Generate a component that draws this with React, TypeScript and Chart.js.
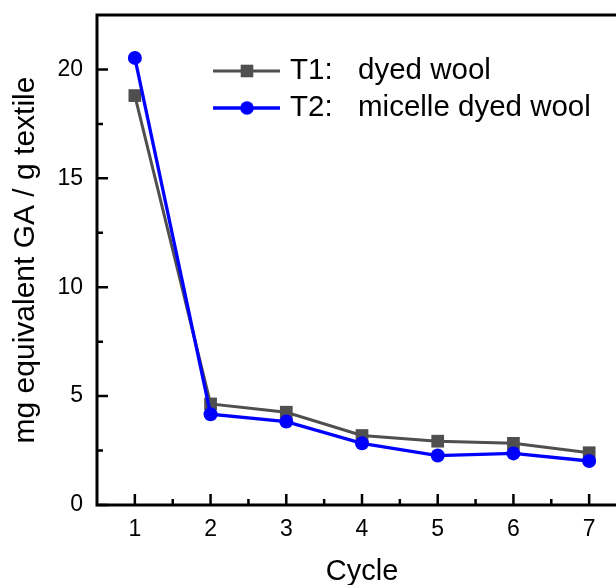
import React, { useEffect, useRef } from 'react';
import { Chart, registerables } from 'chart.js';

Chart.register(...registerables);

const cycles = [1, 2, 3, 4, 5, 6, 7];
const t1Values = [18.8, 4.64, 4.26, 3.19, 2.93, 2.83, 2.4];
const t2Values = [20.53, 4.17, 3.83, 2.83, 2.27, 2.37, 2.02];
const seriesCodes = ['T1:', 'T2:'];
const seriesNames = ['dyed wool', 'micelle dyed wool'];
const yMajorTicks = [0, 5, 10, 15, 20];
const yMinorTicks = [2.5, 7.5, 12.5, 17.5];
const xMajorTicks = cycles;
const xMinorTicks = [1.5, 2.5, 3.5, 4.5, 5.5, 6.5];
const yTitle = 'mg equivalent GA / g textile';
const xTitle = 'Cycle';

const FONT = "'Liberation Sans', Arial, Helvetica, sans-serif";
const GRAY = '#4f4f4f';
const BLUE = '#0000ff';

const framePlugin = {
  id: 'frameAndLegend',
  afterDraw(chart: any) {
    const { ctx, chartArea: a, scales } = chart;
    const x = scales.x;
    const y = scales.y;
    ctx.save();
    ctx.strokeStyle = '#000';
    ctx.lineWidth = 3;
    ctx.lineCap = 'butt';
    ctx.strokeRect(a.left, a.top, a.right - a.left, a.bottom - a.top);
    ctx.lineWidth = 2.5;
    ctx.beginPath();
    xMajorTicks.forEach((v) => {
      const px = x.getPixelForValue(v);
      ctx.moveTo(px, a.bottom);
      ctx.lineTo(px, a.bottom - 11);
    });
    xMinorTicks.forEach((v) => {
      const px = x.getPixelForValue(v);
      ctx.moveTo(px, a.bottom);
      ctx.lineTo(px, a.bottom - 6);
    });
    yMajorTicks.forEach((v) => {
      const py = y.getPixelForValue(v);
      ctx.moveTo(a.left, py);
      ctx.lineTo(a.left + 11, py);
    });
    yMinorTicks.forEach((v) => {
      const py = y.getPixelForValue(v);
      ctx.moveTo(a.left, py);
      ctx.lineTo(a.left + 6, py);
    });
    ctx.stroke();

    // legend
    const rows = [
      { color: GRAY, width: 3, marker: 'rect', y: 71 },
      { color: BLUE, width: 3.3, marker: 'circle', y: 108 },
    ];
    rows.forEach((r, i) => {
      ctx.strokeStyle = r.color;
      ctx.lineWidth = r.width;
      ctx.beginPath();
      ctx.moveTo(213, r.y);
      ctx.lineTo(280, r.y);
      ctx.stroke();
      ctx.fillStyle = r.color;
      if (r.marker === 'rect') {
        ctx.fillRect(247 - 6.3, r.y - 6.3, 12.6, 12.6);
      } else {
        ctx.beginPath();
        ctx.arc(247, r.y, 6.8, 0, Math.PI * 2);
        ctx.fill();
      }
      ctx.fillStyle = '#000';
      ctx.font = `29.5px ${FONT}`;
      ctx.textBaseline = 'middle';
      ctx.textAlign = 'left';
      ctx.fillText(seriesCodes[i], 290, r.y);
      ctx.fillText(seriesNames[i], 358, r.y);
    });
    ctx.restore();
  },
};

export default function App() {
  const ref = useRef<HTMLCanvasElement | null>(null);

  useEffect(() => {
    if (!ref.current) return;
    const chart = new Chart(ref.current, {
      type: 'line',
      data: {
        datasets: [
          {
            label: 'T2: micelle dyed wool',
            data: cycles.map((c, i) => ({ x: c, y: t2Values[i] })),
            borderColor: BLUE,
            backgroundColor: BLUE,
            borderWidth: 3.3,
            pointStyle: 'circle',
            pointRadius: 7,
            pointBorderWidth: 0,
            pointBackgroundColor: BLUE,
            order: 0,
            clip: false,
          },
          {
            label: 'T1: dyed wool',
            data: cycles.map((c, i) => ({ x: c, y: t1Values[i] })),
            borderColor: GRAY,
            backgroundColor: GRAY,
            borderWidth: 3,
            pointStyle: 'rect',
            pointRadius: 9,
            pointBorderWidth: 0,
            pointBackgroundColor: GRAY,
            order: 1,
            clip: false,
          },
        ],
      },
      options: {
        animation: false,
        responsive: false,
        events: [],
        layout: { padding: { left: 0, right: 33, top: 15, bottom: 0 } },
        plugins: {
          legend: { display: false },
          tooltip: { enabled: false },
        },
        scales: {
          x: {
            type: 'linear',
            min: 0.5,
            max: 7.5,
            grid: { display: false, drawTicks: false },
            border: { display: false },
            afterBuildTicks: (s: any) => {
              s.ticks = xMajorTicks.map((v) => ({ value: v }));
            },
            ticks: {
              autoSkip: false,
              color: '#000',
              padding: 11,
              font: { size: 23, family: FONT },
              maxRotation: 0,
            },
            title: {
              display: true,
              text: xTitle,
              color: '#000',
              font: { size: 29, family: FONT, lineHeight: 1 },
              padding: { top: 0, bottom: -1 },
            },
            afterFit: (s: any) => {
              s.height = 80;
              s.paddingLeft = 0;
              s.paddingRight = 0;
            },
          },
          y: {
            type: 'linear',
            min: 0,
            max: 22.5,
            grid: { display: false, drawTicks: false },
            border: { display: false },
            afterBuildTicks: (s: any) => {
              s.ticks = yMajorTicks.map((v) => ({ value: v }));
            },
            ticks: {
              autoSkip: false,
              color: '#000',
              padding: 14,
              font: { size: 23, family: FONT },
            },
            title: {
              display: true,
              text: yTitle,
              color: '#000',
              font: { size: 30, family: FONT, lineHeight: 1 },
              padding: { top: 11, bottom: 0 },
            },
            afterFit: (s: any) => {
              s.width = 97;
              s.paddingTop = 0;
              s.paddingBottom = 0;
            },
          },
        },
      },
      plugins: [framePlugin],
    });
    return () => chart.destroy();
  }, []);

  return (
    <div
      style={{
        position: 'fixed',
        left: 0,
        top: 0,
        width: 616,
        height: 585,
        overflow: 'hidden',
        background: '#fff',
      }}
    >
      <canvas ref={ref} width={660} height={585} style={{ width: 660, height: 585, display: 'block' }} />
    </div>
  );
}
